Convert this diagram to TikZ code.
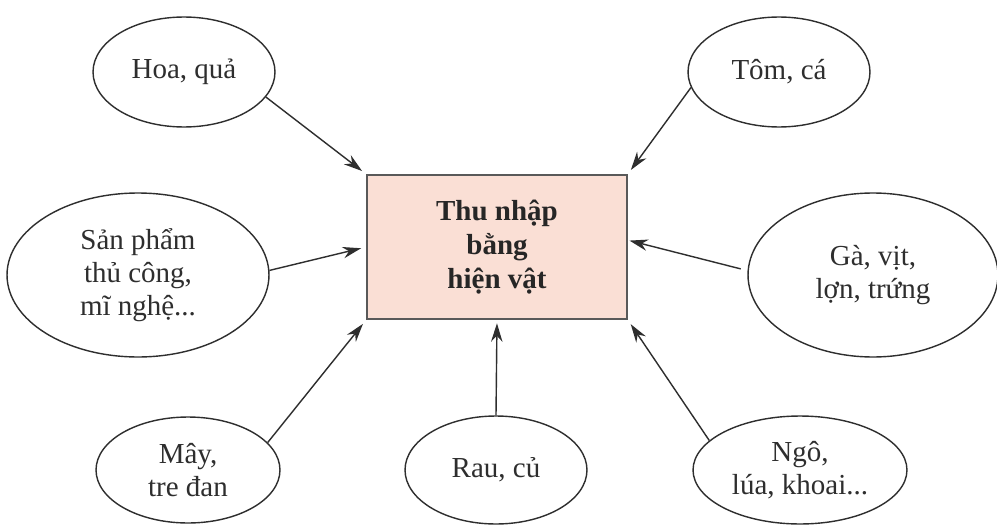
\documentclass[tikz,border=0pt]{standalone}
\usepackage{fontspec}
\setmainfont{Liberation Serif}
\usetikzlibrary{shapes.geometric,arrows.meta}
\definecolor{boxpink}{HTML}{FADFD5}
\definecolor{inkgray}{HTML}{2E2E2E}

\begin{document}
\begin{tikzpicture}[x=0.02cm,y=-0.02cm,
		bubble/.style={ellipse,draw=inkgray,line width=0.8pt,inner sep=0pt,align=center,text=inkgray,font=\fontsize{16.5}{18.8}\selectfont},
		link/.style={draw=inkgray,line width=0.8pt,-{Stealth[length=10.5pt,width=6.5pt]}}]
			%%%%% START %%%%%
			
			\path[use as bounding box, fill=white] (0, 0) rectangle (997, 524);
			
			\node[draw=black!65, fill=boxpink, line width=0.9pt, minimum width=5.2cm, minimum height=2.88cm, align=center, text=black!85, font=\bfseries\fontsize{16.5}{19.3}\selectfont] (income) at (497, 247) {Thu nhập\\bằng\\hiện vật};
			
			\node[bubble, minimum width=3.64cm, minimum height=2.2cm] (fruit) at (184, 72) {Hoa, quả};
			\node[bubble, minimum width=3.64cm, minimum height=2.2cm] (fish) at (779, 72) {Tôm, cá};
			\node[bubble, minimum width=5.24cm, minimum height=3.28cm] (craft) at (138, 275) {Sản phẩm\\thủ công,\\mĩ nghệ...};
			\node[bubble, minimum width=5.0cm, minimum height=3.28cm] (poultry) at (873, 275) {Gà, vịt,\\lợn, trứng};
			\node[bubble, minimum width=3.68cm, minimum height=2.12cm] (rattan) at (188, 470) {Mây,\\tre đan};
			\node[bubble, minimum width=3.64cm, minimum height=2.16cm] (veg) at (496, 470) {Rau, củ};
			\node[bubble, minimum width=4.28cm, minimum height=2.16cm] (grain) at (800, 470) {Ngô,\\lúa, khoai...};
			
			\draw[link, shorten >=3pt] (fruit.-17) -- (income.north west);
			\draw[link, shorten >=3pt] (fish.190) -- (income.north east);
			\draw[link, shorten >=3pt] (craft.2) -- (income.west);
			\draw[link, shorten >=1pt, shorten <=4pt] (poultry.178) -- (income.3);
			\draw[link, shorten >=3pt] (rattan.19) -- (income.south west);
			\draw[link, shorten >=2pt] (veg.north) -- (income.south);
			\draw[link, shorten >=3pt] (grain.162) -- (income.south east);
			
			%%%%% END %%%%%
		\end{tikzpicture}
\end{document}
